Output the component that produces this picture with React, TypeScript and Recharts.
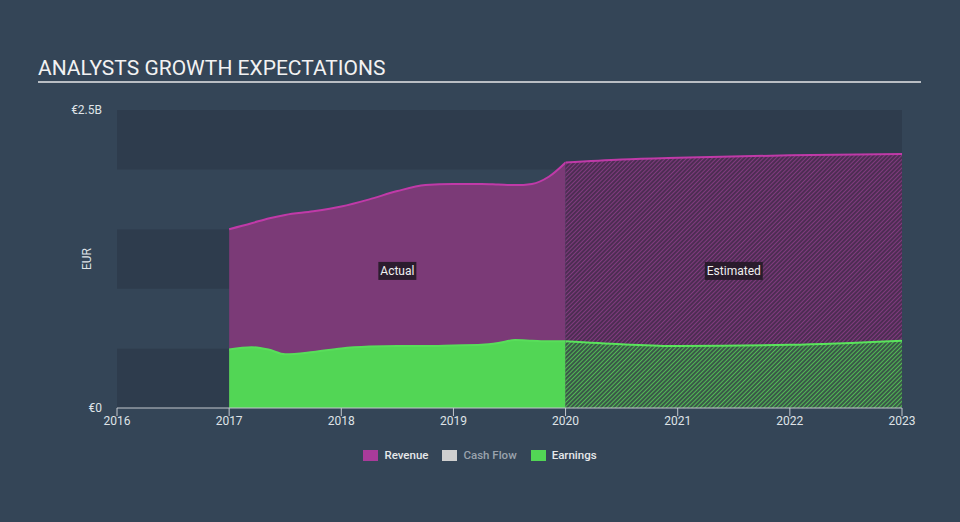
import * as React from 'react';
import {
  AreaChart, Area, XAxis, YAxis, ReferenceArea, ReferenceDot,
} from 'recharts';

// ---- data (EUR billions) ---------------------------------------------------
const actualYears    = [2017, 2017.2, 2017.35, 2017.5, 2017.75, 2018, 2018.25, 2018.5, 2018.75, 2019, 2019.25, 2019.4, 2019.55, 2019.7, 2019.85, 2020];
const revenueActual  = [1.50, 1.55, 1.59, 1.62, 1.65, 1.69, 1.75, 1.82, 1.87, 1.88, 1.88, 1.875, 1.87, 1.88, 1.94, 2.06];
const earningsActual = [0.49, 0.51, 0.49, 0.45, 0.47, 0.50, 0.515, 0.52, 0.52, 0.525, 0.53, 0.545, 0.57, 0.565, 0.56, 0.56];

const estYears       = [2020, 2020.5, 2021, 2022, 2023];
const revenueEst     = [2.06, 2.085, 2.10, 2.12, 2.13];
const earningsEst    = [0.56, 0.535, 0.52, 0.53, 0.565];

const xTicks    = [2016, 2017, 2018, 2019, 2020, 2021, 2022, 2023];
const yTicks    = [0, 2.5];
const bandEdges = [0, 0.5, 1, 1.5, 2, 2.5];

const legendItems = [
  { name: 'Revenue',   color: '#a93b9a', text: '#e6e8ea' },
  { name: 'Cash Flow', color: '#cfcfcf', text: '#9aa3ad' },
  { name: 'Earnings',  color: '#52d655', text: '#e6e8ea' },
];

// merged table for recharts
const rows: Record<string, number>[] = [];
actualYears.forEach((x, i) => rows.push({ x, revA: revenueActual[i], earnA: earningsActual[i] }));
estYears.forEach((x, i) => {
  const hit = rows.find(r => r.x === x);
  if (hit) { hit.revE = revenueEst[i]; hit.earnE = earningsEst[i]; }
  else rows.push({ x, revE: revenueEst[i], earnE: earningsEst[i] });
});

const BG = '#344557';
const BAND_DARK = '#2e3c4d';
const FONT = 'Roboto, "Noto Sans", sans-serif';

function Tag({ viewBox, text, w }: { viewBox?: any; text: string; w: number }) {
  if (!viewBox) return null;
  const cx = viewBox.x + (viewBox.width || 0) / 2;
  const cy = viewBox.y + (viewBox.height || 0) / 2;
  return (
    <g>
      <rect x={cx - w / 2} y={cy - 9} width={w} height={18} fill="#241a26" fillOpacity={0.9} />
      <text x={cx} y={cy + 4} textAnchor="middle" fill="#f0f0f0" fontSize={12} fontFamily={FONT}>{text}</text>
    </g>
  );
}

export default function App() {
  return (
    <div style={{ position: 'absolute', left: 0, top: 0, width: 960, height: 522, background: BG, fontFamily: FONT, overflow: 'hidden' }}>
      <div style={{ position: 'absolute', left: 38, top: 56, fontSize: 21, color: '#f2f2f2', whiteSpace: 'nowrap' }}>
        ANALYSTS GROWTH EXPECTATIONS
      </div>
      <div style={{ position: 'absolute', left: 38, top: 81, width: 883, height: 2, background: '#b9bec4' }} />

      <div style={{ position: 'absolute', left: 0, top: 0 }}>
        <AreaChart width={960} height={522} data={rows} margin={{ top: 110, right: 58, bottom: 84, left: 57 }}>
          <defs>
            <pattern id="hatchRev" width="3" height="3" patternUnits="userSpaceOnUse" patternTransform="rotate(45)">
              <rect width="3" height="3" fill="#4d2d53" />
              <line x1="0" y1="0" x2="0" y2="3" stroke="#8e3e8a" strokeWidth="1.6" />
            </pattern>
            <pattern id="hatchEarn" width="3" height="3" patternUnits="userSpaceOnUse" patternTransform="rotate(45)">
              <rect width="3" height="3" fill="#3a5848" />
              <line x1="0" y1="0" x2="0" y2="3" stroke="#58d258" strokeWidth="1.6" />
            </pattern>
          </defs>

          <XAxis
            dataKey="x" type="number" domain={[2016, 2023]} ticks={xTicks} allowDataOverflow
            stroke="#c3c8ce" tickSize={8} tickMargin={0} height={30}
            tick={{ fill: '#dfe3e7', fontSize: 12, fontFamily: FONT }}
          />
          <YAxis
            type="number" domain={[0, 2.5]} ticks={yTicks} width={60}
            axisLine={false} tickLine={false} tickSize={15} tickMargin={0}
            tickFormatter={(v: number) => (v === 0 ? '€0' : `€${v}B`)}
            tick={{ fill: '#dfe3e7', fontSize: 12, fontFamily: FONT }}
            label={{ value: 'EUR', angle: -90, position: 'center', fill: '#dfe3e7', fontSize: 12, fontFamily: FONT }}
          />

          {bandEdges.slice(0, -1).map((y, i) => (
            <ReferenceArea key={i} y1={y} y2={bandEdges[i + 1]} x1={2016} x2={2023}
              fill={i % 2 === 0 ? BAND_DARK : BG} fillOpacity={1} stroke="none" ifOverflow="visible" />
          ))}

          <Area type="monotone" dataKey="revA" stroke="#c03aa8" strokeWidth={2} fill="#7b3a77" fillOpacity={1}
            dot={false} activeDot={false} isAnimationActive={false} />
          <Area type="monotone" dataKey="revE" stroke="#c03aa8" strokeWidth={2} fill="url(#hatchRev)" fillOpacity={1}
            dot={false} activeDot={false} isAnimationActive={false} />
          <Area type="monotone" dataKey="earnA" stroke="#58de5a" strokeWidth={2} fill="#52d655" fillOpacity={1}
            dot={false} activeDot={false} isAnimationActive={false} />
          <Area type="monotone" dataKey="earnE" stroke="#5ae45c" strokeWidth={2} fill="url(#hatchEarn)" fillOpacity={1}
            dot={false} activeDot={false} isAnimationActive={false} />

          <ReferenceDot x={2018.5} y={1.15} r={0} stroke="none" fill="none"
            label={(p: any) => <Tag viewBox={p.viewBox} text="Actual" w={38} />} />
          <ReferenceDot x={2021.5} y={1.15} r={0} stroke="none" fill="none"
            label={(p: any) => <Tag viewBox={p.viewBox} text="Estimated" w={58} />} />
        </AreaChart>
      </div>

      <div style={{ position: 'absolute', left: 0, top: 448, width: 960, display: 'flex', justifyContent: 'center', gap: 14, fontSize: 11.5, fontWeight: 500 }}>
        {legendItems.map(it => (
          <div key={it.name} style={{ display: 'flex', alignItems: 'center', gap: 6 }}>
            <span style={{ display: 'inline-block', width: 15, height: 11, background: it.color }} />
            <span style={{ color: it.text }}>{it.name}</span>
          </div>
        ))}
      </div>
    </div>
  );
}
